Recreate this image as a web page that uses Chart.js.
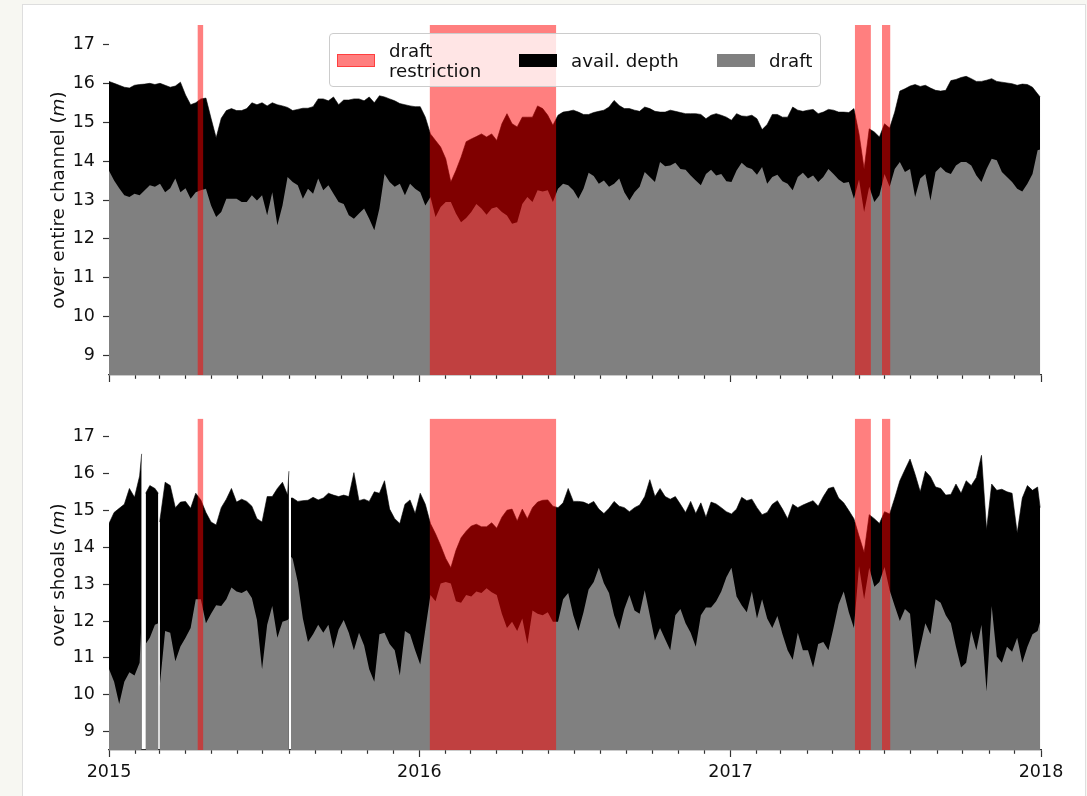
<!DOCTYPE html>
<html><head><meta charset="utf-8">
<script src="https://cdn.jsdelivr.net/npm/chart.js@4"></script>
<style>
html,body{margin:0;padding:0;background:#f7f7f2;}
#wrap{position:relative;width:1087px;height:796px;overflow:hidden;font-family:"DejaVu Sans",sans-serif;}
#card{position:absolute;left:22px;top:4px;width:1062px;height:800px;background:#fff;border:1px solid #dedede;}
canvas{position:absolute;left:0;}
#c1{top:0px;}
#c2{top:400px;}
.ytitle{position:absolute;font-size:18.4px;color:#111;white-space:nowrap;transform:translate(-50%,-50%) rotate(-90deg);}
#legend{position:absolute;left:329px;top:33px;width:492px;height:54px;background:rgba(255,255,255,0.8);border:1px solid #cccccc;border-radius:4px;box-sizing:border-box;}
.patch{position:absolute;height:13px;width:38px;box-sizing:border-box;}
.ltext{position:absolute;font-size:18.2px;color:#111;line-height:20px;white-space:nowrap;}
</style>
</head>
<body>
<div id="wrap">
  <div id="card"></div>
  <canvas id="c1" width="1087" height="400"></canvas>
  <canvas id="c2" width="1087" height="396"></canvas>
  <div class="ytitle" style="left:57px;top:200px;">over entire channel (<i>m</i>)</div>
  <div class="ytitle" style="left:57px;top:575px;">over shoals (<i>m</i>)</div>
  <div id="legend"></div>
  <div class="patch" style="left:337px;top:54px;background:rgba(255,0,0,0.5);border:1px solid rgba(255,0,0,0.5);"></div>
  <div class="ltext" style="left:389px;top:41px;">draft</div>
  <div class="ltext" style="left:389px;top:61px;">restriction</div>
  <div class="patch" style="left:519px;top:54px;background:#000;"></div>
  <div class="ltext" style="left:571px;top:51px;">avail. depth</div>
  <div class="patch" style="left:717px;top:54px;background:#808080;"></div>
  <div class="ltext" style="left:769px;top:51px;">draft</div>
</div>
<script>
// x values: days since 2015-01-01
const channelDays = [
0,6,12,18,24,30,36,42,48,54,60,66,72,78,84,90,96,102,108,114,120,126,132,138,144,150,156,162,168,174,180,186,192,198,204,210,216,222,228,234,240,246,252,258,264,270,276,282,288,294,300,306,312,318,324,330,336,342,348,354,360,366,
372,378,384,390,396,402,408,414,420,426,432,438,444,450,456,462,468,474,480,486,492,498,504,510,516,522,528,534,540,546,552,558,564,570,576,582,588,594,600,606,612,618,624,630,636,642,648,654,660,666,672,678,684,690,696,702,708,714,720,726,732,
738,744,750,756,762,768,774,780,786,792,798,804,810,816,822,828,834,840,846,852,858,864,870,876,882,888,894,900,906,912,918,924,930,936,942,948,954,960,966,972,978,984,990,996,1002,1008,1014,1020,1026,1032,1038,1044,1050,1056,1062,1068,1074,1080,1086,1092,1095];

const channelAvail = [
16.05,16.0,15.95,15.9,15.88,15.95,15.97,15.98,16.0,15.97,16.0,15.95,15.9,15.93,16.03,15.7,15.45,15.5,15.6,15.62,15.1,14.6,15.1,15.3,15.35,15.3,15.3,15.35,15.5,15.45,15.5,15.42,15.5,15.45,15.42,15.38,15.3,15.33,15.36,15.36,15.4,15.6,15.6,15.55,15.65,15.45,15.57,15.57,15.6,15.6,15.55,15.65,15.5,15.68,15.65,15.6,15.55,15.48,15.45,15.42,15.4,15.4,
15.13,14.70,14.53,14.36,14.06,13.46,13.76,14.1,14.5,14.57,14.63,14.7,14.62,14.7,14.53,14.96,15.22,14.96,14.88,15.13,15.13,15.13,15.42,15.35,15.18,14.92,15.18,15.26,15.28,15.31,15.26,15.2,15.2,15.25,15.28,15.31,15.39,15.56,15.43,15.35,15.35,15.31,15.28,15.39,15.35,15.28,15.26,15.26,15.31,15.28,15.25,15.22,15.22,15.22,15.2,15.09,15.18,15.22,15.18,15.13,15.05,
15.22,15.16,15.15,15.18,15.09,14.81,14.94,15.2,15.2,15.13,15.13,15.39,15.31,15.28,15.31,15.33,15.22,15.26,15.33,15.31,15.26,15.26,15.25,15.35,14.7,13.8,14.83,14.75,14.62,14.96,14.85,15.26,15.8,15.86,15.93,15.97,15.92,15.95,15.88,15.82,15.8,15.82,16.07,16.1,16.15,16.18,16.12,16.05,16.05,16.08,16.12,16.05,16.03,16.01,15.99,15.95,15.98,15.97,15.9,15.73,15.65];

const channelDraft = [
13.75,13.5,13.3,13.12,13.08,13.16,13.12,13.25,13.38,13.34,13.42,13.2,13.3,13.55,13.2,13.3,13.03,13.2,13.25,13.29,12.86,12.56,12.69,13.03,13.03,13.03,12.95,12.95,13.12,12.99,13.12,12.61,13.2,12.35,12.86,13.59,13.46,13.38,13.03,13.29,13.16,13.55,13.25,13.38,13.16,12.95,12.9,12.61,12.52,12.65,12.78,12.52,12.22,12.78,13.67,13.46,13.34,13.42,13.12,13.42,13.29,13.2,
12.86,13.08,12.56,12.82,12.95,12.95,12.65,12.43,12.54,12.69,12.9,12.78,12.62,12.78,12.82,12.69,12.6,12.39,12.43,12.9,13.08,12.95,13.25,13.22,13.25,12.95,13.29,13.42,13.38,13.25,13.03,13.29,13.7,13.62,13.42,13.5,13.34,13.42,13.55,13.2,12.99,13.2,13.34,13.72,13.59,13.46,13.98,13.87,13.89,13.96,13.8,13.78,13.63,13.5,13.38,13.67,13.78,13.63,13.67,13.48,13.46,
13.76,13.96,13.84,13.8,13.65,13.85,13.42,13.59,13.65,13.48,13.42,13.25,13.59,13.7,13.55,13.63,13.46,13.59,13.8,13.67,13.53,13.44,13.46,13.03,13.53,12.69,13.34,12.95,13.12,13.67,13.34,13.8,13.98,13.72,13.8,13.08,13.55,13.67,12.99,13.72,13.85,13.72,13.67,13.89,13.98,13.98,13.89,13.63,13.46,13.8,14.06,14.02,13.72,13.59,13.46,13.29,13.22,13.42,13.67,14.28,14.3];

const shoalDays = [
0,6,12,18,24,30,36,38.4,40,43.1,48,54,58,58.8,59.6,66,72,78,84,90,96,102,108,114,120,126,132,138,144,150,156,162,168,174,180,186,192,198,204,210,211.6,212.8,214,216,222,228,234,240,246,252,258,264,270,276,282,288,294,300,306,312,318,324,330,336,342,348,354,360,366,
372,378,384,390,396,402,408,414,420,426,432,438,444,450,456,462,468,474,480,486,492,498,504,510,516,522,528,534,540,546,552,558,564,570,576,582,588,594,600,606,612,618,624,630,636,642,648,654,660,666,672,678,684,690,696,702,708,714,720,726,732,
738,744,750,756,762,768,774,780,786,792,798,804,810,816,822,828,834,840,846,852,858,864,870,876,882,888,894,900,906,912,918,924,930,936,942,948,954,960,966,972,978,984,990,996,1002,1008,1014,1020,1026,1032,1038,1044,1050,1056,1062,1068,1074,1080,1086,1092,1095];

const shoalAvail = [
14.65,14.95,15.06,15.17,15.6,15.36,15.94,16.54,null,15.47,15.68,15.6,15.47,null,14.69,15.77,15.68,15.08,15.23,15.25,15.06,15.47,15.29,14.95,14.69,14.61,15.08,15.31,15.6,15.23,15.31,15.25,15.12,14.78,14.69,15.38,15.38,15.6,15.77,15.42,16.07,null,15.34,15.34,15.25,15.27,15.28,15.36,15.29,15.34,15.47,15.42,15.38,15.42,15.38,16.03,15.27,15.31,15.25,15.51,15.47,15.81,15.04,14.78,14.65,15.17,15.29,14.92,15.47,
15.17,14.65,14.37,14.05,13.7,13.45,13.92,14.26,14.44,14.58,14.63,14.56,14.56,14.67,14.52,14.82,15.01,15.04,14.72,15.04,14.78,15.08,15.23,15.28,15.29,15.12,15.08,15.21,15.6,15.25,15.25,15.23,15.17,15.25,15.04,14.92,15.06,15.25,15.12,15.08,14.97,15.08,15.15,15.38,15.84,15.38,15.6,15.38,15.31,15.38,15.17,14.95,15.25,14.92,15.21,14.82,15.23,15.18,15.08,14.97,14.91,
15.04,15.36,15.27,15.31,15.08,14.89,14.95,15.17,15.27,15.04,14.78,15.17,15.08,15.15,15.21,15.27,15.12,15.38,15.6,15.64,15.34,15.21,15.0,14.78,14.31,13.86,14.89,14.78,14.65,14.97,14.91,15.34,15.81,16.11,16.4,15.98,15.51,16.07,15.92,15.64,15.6,15.42,15.44,15.72,15.47,15.81,15.68,15.9,16.5,14.48,15.72,15.55,15.58,15.51,15.47,14.39,15.34,15.68,15.55,15.64,15.08];

const shoalDraft = [
10.7,10.35,9.75,10.35,10.61,10.52,10.87,12.07,null,11.38,11.55,11.9,11.94,null,10.22,11.73,11.68,10.91,11.31,11.55,11.81,12.59,12.59,11.94,12.2,12.43,12.41,12.59,12.91,12.8,12.76,12.84,12.63,12.03,10.69,11.9,12.41,11.55,11.98,12.03,12.07,null,13.75,13.69,13.06,12.07,11.43,11.64,11.9,11.68,11.9,11.25,11.77,12.03,11.68,11.21,11.68,11.34,10.69,10.35,11.64,11.68,11.38,11.21,10.52,11.73,11.64,11.21,10.82,
11.77,12.71,12.54,13.02,13.06,13.02,12.54,12.5,12.71,12.67,12.8,12.76,12.89,12.78,12.71,12.2,11.81,11.98,11.73,12.07,11.38,12.29,12.2,12.16,12.24,11.98,11.98,12.59,12.76,12.16,11.73,12.24,12.86,13.06,13.45,13.03,12.76,12.16,11.77,12.33,12.71,12.29,12.2,12.84,12.16,11.47,11.81,11.51,11.21,12.16,12.33,11.94,11.68,11.3,12.16,12.37,12.37,12.54,12.8,13.19,13.45,
12.67,12.43,12.24,12.8,12.07,12.59,12.07,11.81,12.14,11.64,11.21,10.95,11.68,11.21,11.21,10.74,11.38,11.43,11.21,11.81,12.46,12.8,12.24,11.81,13.49,12.59,13.45,12.93,13.06,13.47,12.84,12.41,12.0,12.33,12.2,10.69,11.3,11.94,11.64,12.59,12.5,12.16,11.94,11.3,10.74,10.87,11.73,11.21,11.9,10.09,12.41,11.04,10.87,11.3,11.17,11.55,10.87,11.3,11.64,11.73,11.98];

// draft restriction periods (days since 2015-01-01)
const restrictStart = [104, 377, 877, 909];
const restrictEnd   = [111, 526, 896, 919];
const restrictLevel = 17.5;

const yTicks = [9,10,11,12,13,14,15,16,17];
const yearDays = [0,365,731,1096];
const yearLabels = ['2015','2016','2017','2018'];

const monthTicks = [];
for (let y = 2015; y < 2018; y++) for (let m = 0; m < 12; m++)
  monthTicks.push((Date.UTC(y, m, 1) - Date.UTC(2015, 0, 1)) / 86400000);
monthTicks.push(1096);

const toXY = (xs, ys) => xs.map((x, i) => ({x: x, y: ys[i]}));
const spanPts = [];
restrictStart.forEach((s, i) => {
  spanPts.push({x: s, y: restrictLevel}, {x: restrictEnd[i], y: restrictLevel}, {x: restrictEnd[i] + 0.5, y: null});
});

const FONT = {family: 'DejaVu Sans', size: 17.5};

function makeChart(id, days, avail, draft, showLabels, padTop, xHeight) {
  return new Chart(document.getElementById(id), {
    type: 'line',
    data: {
      datasets: [
        {label: 'draft restriction', data: spanPts, order: 0, fill: 'start',
         backgroundColor: 'rgba(255,0,0,0.5)', borderWidth: 0, pointRadius: 0, spanGaps: false},
        {label: 'draft', data: toXY(days, draft), order: 1, fill: 'start',
         backgroundColor: '#808080', borderWidth: 0, pointRadius: 0, spanGaps: false},
        {label: 'avail. depth', data: toXY(days, avail), order: 2, fill: 'start',
         backgroundColor: '#000000', borderColor: '#000000', borderWidth: 0.6, pointRadius: 0, spanGaps: false}
      ]
    },
    options: {
      responsive: false, animation: false, devicePixelRatio: 1,
      layout: {padding: {left: 0, right: 46, top: padTop, bottom: 0}},
      elements: {line: {tension: 0}},
      plugins: {legend: {display: false}, tooltip: {enabled: false}},
      scales: {
        x: {
          type: 'linear', min: 0, max: 1096, z: 1,
          afterBuildTicks: s => { s.ticks = monthTicks.map(v => ({value: v})); },
          afterFit: s => { s.height = xHeight; },
          ticks: {
            display: showLabels, autoSkip: false, maxRotation: 0, font: FONT, color: '#111', padding: 5,
            callback: v => { const k = yearDays.indexOf(v); return k >= 0 ? yearLabels[k] : ''; }
          },
          grid: {
            display: true, drawOnChartArea: false, drawTicks: true, tickLength: 7,
            tickColor: '#333', tickWidth: 1.2,
            tickBorderDash: ctx => (ctx.tick && yearDays.indexOf(ctx.tick.value) >= 0) ? [] : [3.5, 20]
          },
          border: {display: true, color: '#333', width: 1.3}
        },
        y: {
          min: 8.5, max: 17.5,
          afterBuildTicks: s => { s.ticks = yTicks.map(v => ({value: v})); },
          afterFit: s => { s.width = 109; },
          ticks: {font: FONT, color: '#111', padding: 8, callback: v => String(v)},
          grid: {display: true, drawOnChartArea: false, drawTicks: true, tickLength: 6, tickColor: '#333', tickWidth: 1.2},
          border: {display: false}
        }
      }
    }
  });
}

makeChart('c1', channelDays, channelAvail, channelDraft, false, 25, 25);
makeChart('c2', shoalDays, shoalAvail, shoalDraft, true, 1, 46);
</script>
</body></html>
